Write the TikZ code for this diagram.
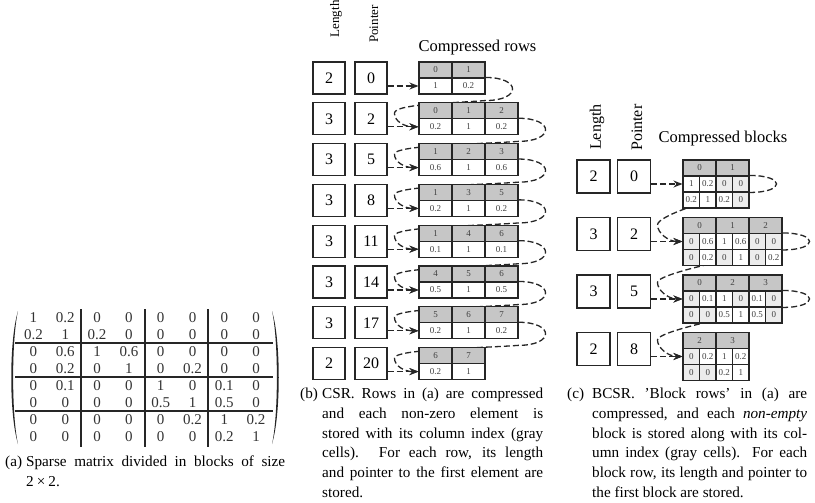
\documentclass[tikz,border=0pt]{standalone}
\usepackage{fontspec}
\setmainfont{Liberation Serif}
\usetikzlibrary{arrows.meta,calc,backgrounds}
\tikzset{
  numbox/.style={draw=black!85, line width=1.3pt, minimum size=32pt, inner sep=0pt, font=\fontsize{16}{19}\selectfont},
  hcell/.style={draw=black!85, line width=1.1pt, fill=gray!45, minimum width=33pt, minimum height=16pt, inner sep=0pt, font=\fontsize{9}{10}\selectfont, text=black!75},
  vcell/.style={hcell, fill=white},
  bcell/.style={draw=black!85, line width=1.1pt, minimum width=16.5pt, minimum height=16pt, inner sep=0pt, font=\fontsize{9}{10}\selectfont, text=black!75},
  link/.style={line width=1.3pt, dash pattern=on 6pt off 3pt, draw=black!85, -{Stealth[length=9pt,width=7pt,inset=3pt]}},
  mat/.style={inner sep=0pt, font=\fontsize{15}{17}\selectfont, text=black!80},
  blk/.style={line width=2pt, draw=black!85},
  lab/.style={inner sep=0pt, font=\fontsize{16}{19}\selectfont},
  captxt/.style={inner sep=0pt, align=justify, font=\fontsize{15.2}{19.7}\selectfont},
}
\begin{document}
\begin{tikzpicture}[x=1pt,y=-1pt]
\useasboundingbox (0,0) rectangle (815,503);

% ---------------- (a) matrix ----------------
\foreach \r [count=\i] in {{1,0.2,0,0,0,0,0,0},{0.2,1,0.2,0,0,0,0,0},{0,0.6,1,0.6,0,0,0,0},{0,0.2,0,1,0,0.2,0,0},{0,0.1,0,0,1,0,0.1,0},{0,0,0,0,0.5,1,0.5,0},{0,0,0,0,0,0.2,1,0.2},{0,0,0,0,0,0,0.2,1}}{
  \foreach \e [count=\j] in \r {
    \node[mat] (m\i-\j) at ({33.5+31.8*(\j-1)},{318+16.9*(\i-1)}) {\e};
  }
}
\foreach \x in {81.2,144.8,208.4} \draw[blk] (\x,309) -- (\x,447);
\foreach \y in {343.4,377.2,411.0} \draw[blk] (15,\y) -- (273,\y);
\fill[black!85] (18,311) .. controls (9,340) and (9,415) .. (18,444) .. controls (11.5,415) and (11.5,340) .. (18,311);
\fill[black!85] (272,311) .. controls (281,340) and (281,415) .. (272,444) .. controls (278.5,415) and (278.5,340) .. (272,311);

\node[captxt, text width=280pt, anchor=north west] (capa) at (5,456)
 {\hangindent=21pt\hangafter=1\noindent\makebox[21pt][l]{(a)}Sparse matrix divided in blocks of size\linebreak 2\hspace{0.2em}×\hspace{0.2em}2.\par};

% ---------------- (b) CSR ----------------
\node[lab, font=\fontsize{13}{16}\selectfont, rotate=90, anchor=west] (bLlab) at (336,37.5) {Length};
\node[lab, font=\fontsize{13}{16}\selectfont, rotate=90, anchor=west] (bPlab) at (374,43) {Pointer};
\node[lab, font=\fontsize{16.5}{19}\selectfont] (bTitle) at (477.5,48) {Compressed rows};

\foreach \i/\len/\ptr/\cells in {1/2/0/{0/1,1/0.2}, 2/3/2/{0/0.2,1/1,2/0.2}, 3/3/5/{1/0.6,2/1,3/0.6}, 4/3/8/{1/0.2,3/1,5/0.2}, 5/3/11/{1/0.1,4/1,6/0.1}, 6/3/14/{4/0.5,5/1,6/0.5}, 7/3/17/{5/0.2,6/1,7/0.2}, 8/2/20/{6/0.2,7/1}}{
  \pgfmathsetmacro\yT{62+40.8*(\i-1)}
  \node[numbox] (bL\i) at (329,\yT+16) {\len};
  \node[numbox] (bP\i) at (371,\yT+16) {\ptr};
  \foreach \c/\v [count=\j] in \cells {
    \node[hcell] (bh\i-\j) at ({419+16.5+33*(\j-1)},\yT+8) {\c};
    \node[vcell] (bv\i-\j) at ({419+16.5+33*(\j-1)},\yT+24) {\v};
  }
  \draw[link] (bP\i.east |- bv\i-1.center) -- (bv\i-1.west);
}
\begin{scope}[on background layer]
\foreach \i/\n in {1/2,2/3,3/3,4/3,5/3,6/3,7/3}{
  \pgfmathtruncatemacro\k{\i+1}
  \draw[link] (bv\i-\n.north east) .. controls +(36,0) and +(36,0) .. ($(bv\i-\n.south east)+(0,6)$) .. controls +(-40,3) and +(0,-9) .. ($(bh\k-1.north west)+(-24,11)$) .. controls +(0,8) and +(-14,0) .. (bv\k-1.west);
}
\end{scope}

\node[captxt, text width=243pt, anchor=north west] (capb) at (300,388)
 {\hangindent=22pt\hangafter=1\noindent\makebox[22pt][l]{(b)}CSR. Rows in (a) are compressed\linebreak and each non-zero element is\linebreak stored with its column index (gray\linebreak cells). For each row, its length\linebreak and pointer to the first element are\linebreak stored.\par};

% ---------------- (c) BCSR ----------------
\node[lab, rotate=90, anchor=west] (cLlab) at (597,150) {Length};
\node[lab, rotate=90, anchor=west] (cPlab) at (637,151) {Pointer};
\node[lab, font=\fontsize{16.5}{19}\selectfont] (cTitle) at (723,139) {Compressed blocks};

\foreach \i/\len/\ptr/\hdr/\va/\vb in {1/2/0/{0,1}/{1,0.2,0,0}/{0.2,1,0.2,0}, 2/3/2/{0,1,2}/{0,0.6,1,0.6,0,0}/{0,0.2,0,1,0,0.2}, 3/3/5/{0,2,3}/{0,0.1,1,0,0.1,0}/{0,0,0.5,1,0.5,0}, 4/2/8/{2,3}/{0,0.2,1,0.2}/{0,0,0.2,1}}{
  \pgfmathsetmacro\yT{160+57.5*(\i-1)}
  \node[numbox, minimum size=33pt] (cL\i) at (593.5,\yT+16.5) {\len};
  \node[numbox, minimum size=33pt] (cP\i) at (634,\yT+16.5) {\ptr};
  \foreach \c [count=\j] in \hdr {
    \node[hcell] (ch\i-\j) at ({683+16.5+33*(\j-1)},\yT+8) {\c};
  }
  \foreach \v [count=\j] in \va {
    \ifdim\v pt=0pt\colorlet{cf}{gray!15}\else\colorlet{cf}{white}\fi
    \node[bcell, fill=cf] (ca\i-\j) at ({683+8.25+16.5*(\j-1)},\yT+24) {\v};
  }
  \foreach \v [count=\j] in \vb {
    \ifdim\v pt=0pt\colorlet{cf}{gray!15}\else\colorlet{cf}{white}\fi
    \node[bcell, fill=cf] (cb\i-\j) at ({683+8.25+16.5*(\j-1)},\yT+40) {\v};
  }
  \draw[link] (cP\i.east |- ca\i-1.center) -- (ca\i-1.west);
}
\begin{scope}[on background layer]
\foreach \i/\n in {1/4,2/6,3/6}{
  \pgfmathtruncatemacro\k{\i+1}
  \draw[link] (ca\i-\n.north east) .. controls +(36,0) and +(36,0) .. ($(cb\i-\n.north east)+(0,1)$) .. controls +(-40,6) and +(0,-9) .. ($(ch\k-1.north west)+(-25,8)$) .. controls +(0,8) and +(-14,0) .. (ca\k-1.west);
}
\end{scope}

\node[captxt, text width=240pt, anchor=north west] (capc) at (567,388)
 {\hangindent=25pt\hangafter=1\noindent\makebox[25pt][l]{(c)}BCSR. 'Block rows' in (a) are\linebreak compressed, and each \textit{non-empty}\linebreak block is stored along with its col-\linebreak umn index (gray cells). For each\linebreak block row, its length and pointer to\linebreak the first block are stored.\par};
\end{tikzpicture}
\end{document}
